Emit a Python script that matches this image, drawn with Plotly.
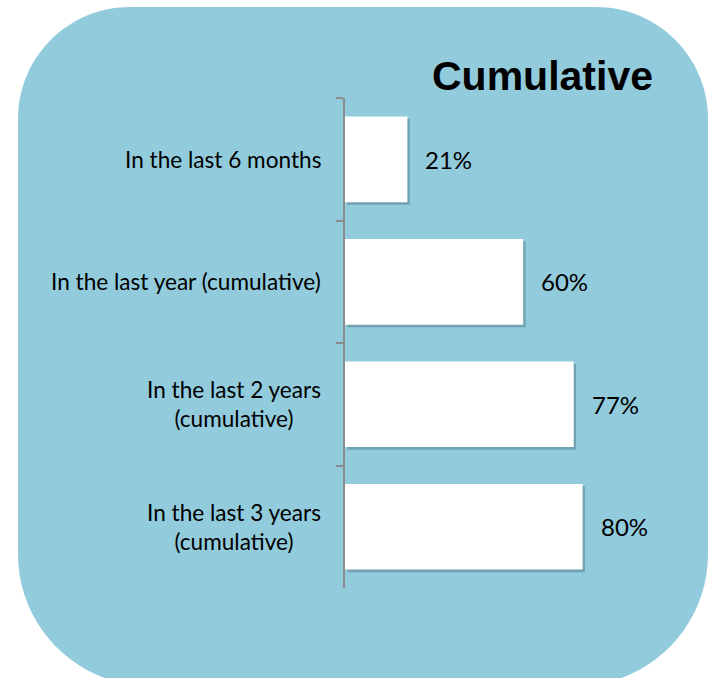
import plotly.graph_objects as go

categories = ["In the last 6 months", "In the last year (cumulative)",
              "In the last 2 years<br>(cumulative)", "In the last 3 years<br>(cumulative)"]
values = [21, 60, 77, 80]
value_labels = ["21%", "60%", "77%", "80%"]
title_text = "Cumulative"

W, H = 711, 678
L, R, T, B = 345, 642, 98, 588  # plot area in pixels

def px(x):
    return (x - L) / (R - L)

def py(y):
    return (B - y) / (B - T)

# rounded rectangle path (pixel coords -> paper coords)
x0, x1, y0, y1, rt, rb = 18, 708, 7, 686, 112, 132
kt = 0.5523 * rt
kb = 0.5523 * rb
def P(x, y):
    return f"{px(x):.5f},{py(y):.5f}"
path = (
    f"M {P(x0 + rt, y0)} L {P(x1 - rt, y0)} "
    f"C {P(x1 - rt + kt, y0)} {P(x1, y0 + rt - kt)} {P(x1, y0 + rt)} "
    f"L {P(x1, y1 - rb)} "
    f"C {P(x1, y1 - rb + kb)} {P(x1 - rb + kb, y1)} {P(x1 - rb, y1)} "
    f"L {P(x0 + rb, y1)} "
    f"C {P(x0 + rb - kb, y1)} {P(x0, y1 - rb + kb)} {P(x0, y1 - rb)} "
    f"L {P(x0, y0 + rt)} "
    f"C {P(x0, y0 + rt - kt)} {P(x0 + rt - kt, y0)} {P(x0 + rt, y0)} Z"
)

fig = go.Figure()
# shadow
fig.add_trace(go.Bar(
    y=categories, x=values, base=[0.8] * len(values), orientation="h",
    width=0.7, offset=-0.35 + 0.022,
    marker=dict(color="rgba(50,85,100,0.35)", line=dict(width=0)),
    hoverinfo="skip", showlegend=False))
fig.add_trace(go.Bar(
    y=categories, x=values, orientation="h",
    width=0.7, offset=-0.35,
    marker=dict(color="#FFFFFF", line=dict(width=0)),
    showlegend=False))

annotations = []
for c, v, t in zip(categories, values, value_labels):
    annotations.append(dict(x=v, y=c, xref="x", yref="y", text=t, showarrow=False,
                            xanchor="left", xshift=16,
                            font=dict(family="Lato, Noto Sans, sans-serif", size=24, color="#000")))
    annotations.append(dict(x=0, y=c, xref="paper", yref="y", text=c, showarrow=False,
                            xanchor="right", align="center", xshift=-22,
                            font=dict(family="Lato, Noto Sans, sans-serif", size=22.6, color="#000")))
annotations.append(dict(x=px(542), y=py(76), xref="paper", yref="paper", text=f"<b>{title_text}</b>",
                        showarrow=False, xanchor="center", yanchor="middle",
                        font=dict(family="Liberation Sans, Arial, sans-serif", size=41, color="#000")))

fig.update_layout(
    width=W, height=H,
    margin=dict(l=L, r=W - R, t=T, b=H - B, pad=0),
    paper_bgcolor="white", plot_bgcolor="rgba(0,0,0,0)",
    barmode="overlay",
    shapes=[dict(type="path", path=path, xref="paper", yref="paper",
                 fillcolor="#92CBDC", line=dict(width=0), layer="below")],
    annotations=annotations,
    xaxis=dict(range=[0, 100], visible=False, fixedrange=True),
    yaxis=dict(autorange="reversed", showticklabels=False, showgrid=False,
               showline=True, linecolor="#8C8C8C", linewidth=2,
               ticks="outside", tickson="boundaries", ticklen=7, tickcolor="#8C8C8C", tickwidth=2,
               zeroline=False, fixedrange=True),
)
fig.write_html("out.html", config={"displayModeBar": False},
               post_script="document.body.style.margin='0';document.body.style.overflow='hidden';")
